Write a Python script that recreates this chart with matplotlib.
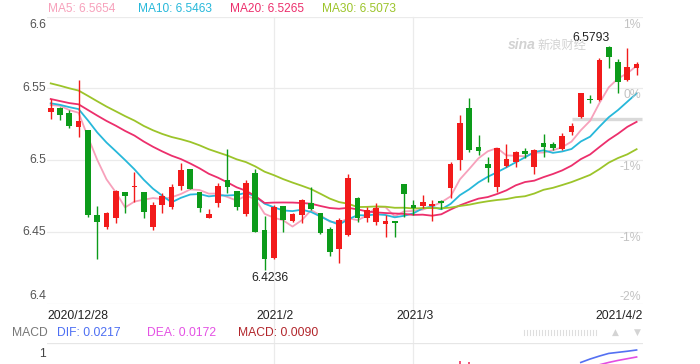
import numpy as np
import matplotlib
matplotlib.use("Agg")
import matplotlib.pyplot as plt
from matplotlib.lines import Line2D

plt.rcParams['font.family'] = ['Liberation Sans', 'DejaVu Sans']

# ---------------- data ----------------
opens = [6.5333, 6.5365, 6.5326, 6.5232, 6.5209, 6.4616, 6.4530, 6.4593, 6.4775, 6.4810,
         6.4775, 6.4535, 6.4686, 6.4674, 6.4821, 6.4937, 6.4775, 6.4597, 6.4698, 6.4860,
         6.4784, 6.4623, 6.4907, 6.4512, 6.4314, 6.4681, 6.4574, 6.4616, 6.4702, 6.4628,
         6.4523, 6.4377, 6.4477, 6.4733, 6.4593, 6.4569, 6.4551, 6.4574, 6.4835, 6.4686,
         6.4681, 6.4681, 6.4714, 6.4807, 6.5000, 6.5365, 6.5093, 6.4972, 6.4814, 6.4958,
         6.4988, 6.5065, 6.4953, 6.5121, 6.5112, 6.5077, 6.5197, 6.5298, 6.5426, 6.5419,
         6.5790, 6.5686, 6.5558, 6.5640]
highs = [6.5426, 6.5372, 6.5349, 6.5558, 6.5209, 6.4681, 6.4639, 6.4791, 6.4775, 6.4918,
         6.4775, 6.4709, 6.4768, 6.4833, 6.4977, 6.4937, 6.4775, 6.4658, 6.4837, 6.5075,
         6.4784, 6.4860, 6.4935, 6.4609, 6.4686, 6.4681, 6.4628, 6.4726, 6.4814, 6.4628,
         6.4535, 6.4593, 6.4900, 6.4744, 6.4674, 6.4698, 6.4616, 6.4574, 6.4835, 6.4721,
         6.4756, 6.4721, 6.4721, 6.4988, 6.5314, 6.5435, 6.5174, 6.5023, 6.5086, 6.5110,
         6.5065, 6.5082, 6.5075, 6.5181, 6.5128, 6.5186, 6.5256, 6.5470, 6.5454, 6.5710,
         6.5793, 6.5703, 6.5780, 6.5686]
lows = [6.5284, 6.5279, 6.5221, 6.5163, 6.4600, 6.4309, 6.4523, 6.4558, 6.4628, 6.4709,
        6.4593, 6.4516, 6.4632, 6.4656, 6.4791, 6.4798, 6.4639, 6.4597, 6.4674, 6.4768,
        6.4651, 6.4609, 6.4500, 6.4236, 6.4307, 6.4500, 6.4569, 6.4558, 6.4651, 6.4488,
        6.4332, 6.4279, 6.4470, 6.4569, 6.4569, 6.4546, 6.4465, 6.4465, 6.4604, 6.4616,
        6.4663, 6.4574, 6.4658, 6.4733, 6.4930, 6.5058, 6.5035, 6.4849, 6.4779, 6.4953,
        6.4953, 6.5012, 6.4902, 6.5023, 6.5070, 6.5070, 6.5174, 6.5291, 6.5396, 6.5414,
        6.5640, 6.5465, 6.5553, 6.5593]
closes = [6.5365, 6.5314, 6.5239, 6.5274, 6.4616, 6.4569, 6.4632, 6.4784, 6.4751, 6.4816,
          6.4639, 6.4686, 6.4749, 6.4814, 6.4930, 6.4798, 6.4667, 6.4621, 6.4819, 6.4809,
          6.4674, 6.4837, 6.4500, 6.4307, 6.4674, 6.4581, 6.4621, 6.4721, 6.4658, 6.4495,
          6.4360, 6.4581, 6.4877, 6.4593, 6.4651, 6.4663, 6.4574, 6.4558, 6.4765, 6.4667,
          6.4709, 6.4691, 6.4698, 6.4970, 6.5260, 6.5070, 6.5065, 6.4942, 6.5082, 6.5005,
          6.5058, 6.5042, 6.5070, 6.5089, 6.5082, 6.5167, 6.5237, 6.5465, 6.5419, 6.5698,
          6.5716, 6.5546, 6.5651, 6.5670]
# closes of the 29 sessions before the first candle (feed the moving averages)
prior_closes = [6.580, 6.578, 6.575, 6.572, 6.570, 6.574, 6.578, 6.576, 6.574, 6.576,
                6.560, 6.552, 6.545, 6.540, 6.535, 6.538, 6.545, 6.548, 6.546, 6.547,
                6.542, 6.540, 6.541, 6.540, 6.541,
                6.5339, 6.5389, 6.5369, 6.5458]

date_ticks = [0, 24, 39, 63]
date_labels = ['2020/12/28', '2021/2', '2021/3', '2021/4/2']

price_ticks = [6.4, 6.45, 6.5, 6.55, 6.6]
price_labels = ['6.4', '6.45', '6.5', '6.55', '6.6']
pct_labels = ['-2%', '-1%', '-1%', '0%', '1%']

ma_periods = [5, 10, 20, 30]
ma_values_text = ['6.5654', '6.5463', '6.5265', '6.5073']
ref_price = 6.5288

hi_idx, hi_val = 60, 6.5793
lo_idx, lo_val = 23, 6.4236

dif_idx = [57, 58, 59, 60, 61, 62, 63]
dif_vals = [0.0137, 0.0159, 0.0178, 0.0195, 0.0202, 0.0209, 0.0217]
dea_idx = [59, 60, 61, 62, 63]
dea_vals = [0.0122, 0.0137, 0.0150, 0.0161, 0.0172]
macd_idx = [44, 45]
macd_vals = [0.0146, 0.0142]
macd_texts = ['DIF: 0.0217', 'DEA: 0.0172', 'MACD: 0.0090']

# ---------------- style ----------------
W, H = 700, 364
RED = '#f21b1b'
GREEN = '#0c9b1a'
MA_COLORS = ['#f7a1bb', '#27b8da', '#ec2f6c', '#9cc42a']
GRID = '#ebebeb'
AX_L, AX_R, AX_T, AX_B = 47, 643, 16.7, 303.5
X0, DX = 50.7, 9.3


def fx(px):
    return px / W


def fy(py):
    return 1 - py / H


xlim = ((AX_L - X0) / DX, (AX_R - X0) / DX)

fig = plt.figure(figsize=(W / 100, H / 100), dpi=100)
ax = fig.add_axes([fx(AX_L), fy(AX_B), (AX_R - AX_L) / W, (AX_B - AX_T) / H])
ax.set_xlim(*xlim)
ax.set_ylim(6.4, 6.6)
ax.set_axis_off()

n = len(closes)
xs = np.arange(n)

# grid
for p in price_ticks:
    ax.axhline(p, color=GRID, lw=0.9, zorder=0)
ppx = (AX_B - AX_T) / 0.2
y_bottom_fig = 6.4 - (H - AX_B) / ppx
for t in date_ticks[1:3]:
    ax.plot([t, t], [6.6, y_bottom_fig], color=GRID, lw=0.9, zorder=0, clip_on=False)

# reference bar
ax.plot([56.0, 63.55], [ref_price, ref_price], color='#d9d9d9', lw=2.4,
        solid_capstyle='butt', zorder=1)

# moving averages
full = np.array(prior_closes + closes)
off = len(prior_closes)
for per, col in zip(ma_periods, MA_COLORS):
    ma = [full[off + i - per + 1: off + i + 1].mean() for i in range(n)]
    ax.plot(xs, ma, color=col, lw=1.3, zorder=3)

# candles
for i in range(n):
    o, h, l, c = opens[i], highs[i], lows[i], closes[i]
    col = RED if c >= o else GREEN
    ax.vlines(i, l, h, color=col, lw=1.0, zorder=4)
    ax.bar(i, max(abs(c - o), 0.0006), bottom=min(o, c), width=0.62,
           color=col, linewidth=0, zorder=5)

# hi / lo annotations
ax.annotate(f'{hi_val:.4f}', (hi_idx, hi_val), xytext=(1, 2), textcoords='offset points',
            ha='right', va='bottom', fontsize=8.7, color='#222222', zorder=6)
ax.annotate(f'{lo_val:.4f}', (lo_idx, lo_val), xytext=(4, -1.5), textcoords='offset points',
            ha='center', va='top', fontsize=8.7, color='#222222', zorder=6)

# y labels (left: price, right: percent)
for p, lab, pl in zip(price_ticks, price_labels, pct_labels):
    ypx = AX_T + (6.6 - p) * ppx
    if p == 6.6:
        ly, ry = 25, 25
    elif p == 6.4:
        ly, ry = 296, 297
    else:
        ly, ry = ypx, ypx + 6.5
    fig.text(fx(46), fy(ly), lab, ha='right', va='center', fontsize=8.8, color='#555555')
    fig.text(fx(641), fy(ry), pl, ha='right', va='center', fontsize=8.8, color='#c2c2c2')

# MA legend
for lx, per, val, col in zip([48, 138, 230, 322], ma_periods, ma_values_text, MA_COLORS):
    fig.text(fx(lx), fy(8.5), f'MA{per}: {val}', ha='left', va='center', fontsize=8.6, color=col)

# watermark
fig.text(fx(508), fy(45), 'sina', ha='left', va='center', fontsize=10, color='#d2d2d2',
         style='italic', weight='bold')
fig.text(fx(537), fy(45.5), '新浪财经', ha='left', va='center', fontsize=8.8, color='#d2d2d2',
         family=['Noto Sans CJK SC', 'DejaVu Sans'], style='italic')

# date labels
px_of = lambda i: X0 + DX * i
for t, lab in zip(date_ticks, date_labels):
    if t == date_ticks[0]:
        fig.text(fx(AX_L), fy(316), lab, ha='left', va='center', fontsize=8.7, color='#222222')
    elif t == date_ticks[-1]:
        fig.text(fx(AX_R), fy(316), lab, ha='right', va='center', fontsize=8.7, color='#222222')
    else:
        fig.text(fx(px_of(t) + 1.5), fy(316), lab, ha='center', va='center', fontsize=8.7,
                 color='#222222')

# MACD header
fig.text(fx(12), fy(332.5), 'MACD', ha='left', va='center', fontsize=8.7, color='#777777')
for lx, txt, col in zip([57, 147, 238], macd_texts, ['#4d6ff3', '#e452e4', '#b2262c']):
    fig.text(fx(lx), fy(332.5), txt, ha='left', va='center', fontsize=8.7, color=col)
for gx in np.arange(524, 597, 3):
    fig.add_artist(Line2D([fx(gx), fx(gx)], [fy(329.5), fy(335)], color='#dedede', lw=0.8))
fig.text(fx(615), fy(332.5), '▲', ha='center', va='center', fontsize=6.5, color='#d4d4d4',
         family='DejaVu Sans')
fig.text(fx(637), fy(332.5), '▼', ha='center', va='center', fontsize=6.5, color='#d4d4d4',
         family='DejaVu Sans')

# MACD panel (mostly cut off)
mtop, mbot = 343, 420
mx = fig.add_axes([fx(AX_L), fy(mbot), (AX_R - AX_L) / W, (mbot - mtop) / H])
mx.set_xlim(*xlim)
mx.set_ylim(0.0217 - (mbot - 350) / 1555, 0.0217 + (350 - mtop) / 1555)
mx.set_axis_off()
mx.axhline(mx.get_ylim()[1], color='#e6e6e6', lw=0.9)
mx.bar(macd_idx, macd_vals, width=0.25, color='#f2557a', linewidth=0)
mx.plot(dif_idx, dif_vals, color='#5470f2', lw=1.2)
mx.plot(dea_idx, dea_vals, color='#e24ee2', lw=1.2)
fig.text(fx(46), fy(354), '1', ha='right', va='center', fontsize=8.7, color='#444444')

fig.savefig('out.png', dpi=100)
